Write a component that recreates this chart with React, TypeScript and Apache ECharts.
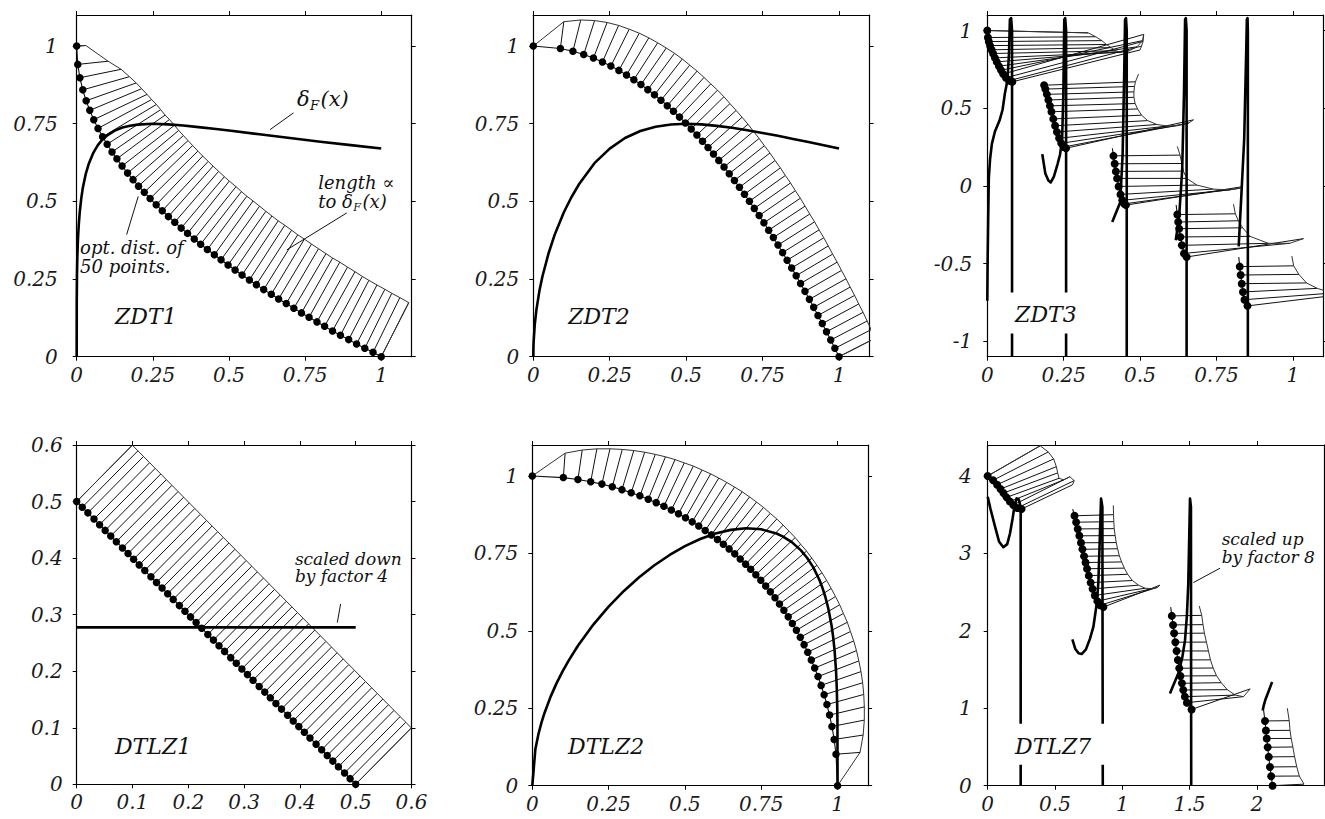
import React, { useEffect, useRef } from "react";
import * as echarts from "echarts";

const FONT = "DejaVu Serif";

// ---------- tick values ----------
const zdtTicks = [0, 0.25, 0.5, 0.75, 1];
const zdt3YTicks = [-1, -0.5, 0, 0.5, 1];
const dtlz1Ticks = [0, 0.1, 0.2, 0.3, 0.4, 0.5, 0.6];
const dtlz7XTicks = [0, 0.5, 1, 1.5, 2];
const dtlz7YTicks = [0, 1, 2, 3, 4];

// ---------- ZDT1 ----------
const zdt1X = [0, 0.0035, 0.0105, 0.02, 0.031, 0.043, 0.056, 0.07, 0.085, 0.1,
  0.116, 0.132, 0.149, 0.167, 0.185, 0.203, 0.222, 0.241, 0.261, 0.281,
  0.301, 0.322, 0.343, 0.364, 0.386, 0.407, 0.429, 0.452, 0.474, 0.497,
  0.52, 0.543, 0.567, 0.59, 0.614, 0.639, 0.663, 0.688, 0.713, 0.738,
  0.763, 0.789, 0.814, 0.84, 0.866, 0.893, 0.919, 0.946, 0.973, 1.0];
const zdt1Y = [1, 0.941, 0.898, 0.859, 0.824, 0.793, 0.763, 0.735, 0.708, 0.684,
  0.659, 0.637, 0.614, 0.591, 0.57, 0.549, 0.529, 0.509, 0.489, 0.47,
  0.451, 0.433, 0.414, 0.397, 0.379, 0.362, 0.345, 0.328, 0.312, 0.295,
  0.279, 0.263, 0.247, 0.232, 0.216, 0.201, 0.186, 0.171, 0.156, 0.141,
  0.127, 0.112, 0.098, 0.083, 0.069, 0.055, 0.041, 0.027, 0.014, 0];
const zdt1Hatch = [0.03, 0.1, 0.138, 0.159, 0.174, 0.184, 0.193, 0.199, 0.205, 0.208,
  0.211, 0.214, 0.216, 0.217, 0.218, 0.219, 0.219, 0.219, 0.219, 0.219,
  0.219, 0.218, 0.218, 0.217, 0.217, 0.216, 0.215, 0.215, 0.214, 0.213,
  0.212, 0.211, 0.211, 0.21, 0.209, 0.208, 0.207, 0.206, 0.205, 0.204,
  0.204, 0.203, 0.202, 0.201, 0.2, 0.199, 0.199, 0.198, 0.197, 0.196];
const zdt1DeltaX = [0, 0.0002, 0.001, 0.002, 0.0035, 0.005, 0.007, 0.01, 0.015, 0.02, 0.03, 0.04, 0.055, 0.07, 0.085, 0.1, 0.125, 0.15, 0.175, 0.2, 0.25, 0.3, 0.35, 0.4, 0.45, 0.5, 0.6, 0.7, 0.8, 0.9, 1.0];
const zdt1DeltaY = [0, 0.178, 0.266, 0.316, 0.3625, 0.395, 0.4277, 0.465, 0.5096, 0.543, 0.5895, 0.622, 0.657, 0.682, 0.6996, 0.712, 0.7278, 0.738, 0.7437, 0.747, 0.75, 0.748, 0.7443, 0.739, 0.7338, 0.728, 0.716, 0.704, 0.692, 0.681, 0.67];

// ---------- ZDT2 ----------
const zdt2X = [0, 0.0886, 0.1296, 0.1649, 0.1967, 0.2261, 0.2537, 0.2799, 0.3049, 0.3289,
  0.3521, 0.3745, 0.3963, 0.4175, 0.4382, 0.4584, 0.4782, 0.4975, 0.5165, 0.5351,
  0.5535, 0.5715, 0.5893, 0.6067, 0.6239, 0.6409, 0.6578, 0.6743, 0.6907, 0.7069,
  0.7229, 0.7387, 0.7543, 0.7699, 0.7852, 0.8004, 0.8154, 0.8303, 0.8451, 0.8598,
  0.8742, 0.8886, 0.903, 0.9171, 0.9312, 0.9452, 0.959, 0.9728, 0.9864, 1];
const zdt2Y = [1, 0.9921, 0.9832, 0.9728, 0.9613, 0.9489, 0.9356, 0.9217, 0.907, 0.8918,
  0.876, 0.8597, 0.843, 0.8257, 0.808, 0.7899, 0.7713, 0.7525, 0.7332, 0.7137,
  0.6936, 0.6734, 0.6527, 0.6319, 0.6107, 0.5892, 0.5673, 0.5453, 0.5229, 0.5003,
  0.4774, 0.4543, 0.431, 0.4073, 0.3835, 0.3594, 0.3351, 0.3106, 0.2858, 0.2607,
  0.2358, 0.2104, 0.1846, 0.1589, 0.1329, 0.1066, 0.0803, 0.0537, 0.027, 0];
const zdt2Hatch = [0, 0.087, 0.104, 0.115, 0.123, 0.129, 0.133, 0.137, 0.14, 0.142,
  0.144, 0.146, 0.147, 0.147, 0.148, 0.148, 0.148, 0.149, 0.149, 0.148,
  0.148, 0.148, 0.148, 0.147, 0.147, 0.146, 0.146, 0.145, 0.145, 0.144,
  0.144, 0.143, 0.143, 0.142, 0.141, 0.141, 0.14, 0.14, 0.139, 0.138,
  0.138, 0.137, 0.137, 0.136, 0.136, 0.135, 0.135, 0.134, 0.133, 0.133];
const zdt2DeltaX = [0, 0.0003, 0.001, 0.005, 0.01, 0.02, 0.03, 0.05, 0.07, 0.1, 0.125, 0.15, 0.2, 0.25, 0.3, 0.35, 0.4, 0.45, 0.5, 0.55, 0.6, 0.65, 0.7, 0.75, 0.8, 0.85, 0.9, 0.95, 1.0];
const zdt2DeltaY = [0, 0.026, 0.047, 0.106, 0.15, 0.212, 0.259, 0.333, 0.393, 0.465, 0.514, 0.556, 0.623, 0.67, 0.704, 0.7265, 0.74, 0.7474, 0.75, 0.7478, 0.743, 0.7369, 0.729, 0.7201, 0.711, 0.7007, 0.691, 0.6805, 0.67];

// ---------- ZDT3 (five front pieces) ----------
const zdt3X = [
  [0, 0.002, 0.005, 0.009, 0.014, 0.019, 0.025, 0.031, 0.038, 0.045, 0.052, 0.061, 0.071, 0.082],
  [0.186, 0.19, 0.195, 0.2, 0.205, 0.21, 0.216, 0.222, 0.228, 0.235, 0.242, 0.25, 0.2578],
  [0.413, 0.417, 0.421, 0.425, 0.43, 0.436, 0.442, 0.448, 0.4539],
  [0.622, 0.625, 0.628, 0.632, 0.637, 0.644, 0.6525],
  [0.8265, 0.8295, 0.833, 0.837, 0.842, 0.8518],
];
const zdt3Y = [
  [1, 0.955, 0.929, 0.903, 0.876, 0.852, 0.824, 0.798, 0.77, 0.744, 0.72, 0.696, 0.677, 0.67],
  [0.648, 0.623, 0.589, 0.553, 0.515, 0.477, 0.431, 0.387, 0.347, 0.306, 0.274, 0.25, 0.242],
  [0.193, 0.142, 0.093, 0.048, -0.004, -0.055, -0.093, -0.116, -0.124],
  [-0.185, -0.233, -0.276, -0.329, -0.383, -0.435, -0.458],
  [-0.52, -0.574, -0.63, -0.683, -0.733, -0.773],
];
const zdt3TipX = [
  [0.33, 0.355, 0.375, 0.39, 0.405, 0.42, 0.44, 0.465, 0.49, 0.508, 0.512, 0.51, 0.505, 0.5],
  [0.485, 0.482, 0.48, 0.48, 0.484, 0.492, 0.505, 0.525, 0.555, 0.59, 0.63, 0.66, 0.675],
  [0.631, 0.637, 0.642, 0.653, 0.686, 0.74, 0.795, 0.828, 0.833],
  [0.812, 0.822, 0.836, 0.86, 0.92, 0.99, 1.035],
  [1.003, 1.02, 1.045, 1.08, 1.13, 1.2],
];
const zdt3TipY = [
  [0.985, 0.96, 0.935, 0.91, 0.89, 0.87, 0.86, 0.87, 0.895, 0.935, 0.975, 0.93, 0.9, 0.875],
  [0.67, 0.64, 0.605, 0.57, 0.53, 0.495, 0.455, 0.42, 0.395, 0.385, 0.39, 0.405, 0.425],
  [0.198, 0.144, 0.095, 0.048, 0.005, -0.021, -0.026, -0.015, -0.006],
  [-0.18, -0.225, -0.27, -0.325, -0.37, -0.37, -0.34],
  [-0.515, -0.57, -0.625, -0.66, -0.69, -0.69],
];
const zdt3TailX = [0, 0.495, 0.622, 0.806, 0.997];
const zdt3TailY = [1, 0.72, 0.254, -0.118, -0.452];
const zdt3StartX = [0, 0.1822, 0.4093, 0.6183, 0.8233];
const zdt3StartY = [1, 0.669, 0.242, -0.123, -0.458];
const zdt3DeltaX = [
  [0, 0.001, 0.003, 0.005, 0.009, 0.015, 0.025, 0.04, 0.05, 0.058, 0.066, 0.071, 0.074, 0.078, 0.081, 0.081],
  [0.18, 0.19, 0.2, 0.2077, 0.218, 0.23, 0.238, 0.245, 0.249, 0.252, 0.255, 0.258, 0.258],
  [0.409, 0.42, 0.435, 0.443, 0.448, 0.451, 0.454, 0.4565, 0.4565],
  [0.617, 0.628, 0.638, 0.644, 0.6475, 0.65, 0.6525, 0.6525],
  [0.823, 0.832, 0.841, 0.848, 0.8497, 0.852, 0.853, 0.853],
];
const zdt3DeltaY = [
  [-0.74, -0.5, -0.2, 0.05, 0.17, 0.27, 0.35, 0.42, 0.49, 0.6, 0.68, 0.85, 1.07, 1.08, 1.0, -1.1],
  [0.204, 0.08, 0.035, 0.022, 0.06, 0.14, 0.2, 0.3, 0.6, 1.07, 1.08, 1.0, -1.1],
  [-0.232, -0.18, -0.107, 0.2, 0.7, 1.07, 1.08, 1.0, -1.1],
  [-0.35, -0.2, 0.1, 0.6, 1.07, 1.08, 1.0, -1.1],
  [-0.39, -0.05, 0.3, 0.9, 1.07, 1.08, 1.0, -1.1],
];

// ---------- DTLZ1 ----------
const dtlz1X = [0, 0.01, 0.02, 0.031, 0.041, 0.051, 0.061, 0.071, 0.082, 0.092,
  0.102, 0.112, 0.122, 0.133, 0.143, 0.153, 0.163, 0.173, 0.184, 0.194,
  0.204, 0.214, 0.224, 0.235, 0.245, 0.255, 0.265, 0.276, 0.286, 0.296,
  0.306, 0.316, 0.327, 0.337, 0.347, 0.357, 0.367, 0.378, 0.388, 0.398,
  0.408, 0.418, 0.429, 0.439, 0.449, 0.459, 0.469, 0.48, 0.49, 0.5];
const dtlz1Y = [0.5, 0.49, 0.48, 0.469, 0.459, 0.449, 0.439, 0.429, 0.418, 0.408,
  0.398, 0.388, 0.378, 0.367, 0.357, 0.347, 0.337, 0.327, 0.316, 0.306,
  0.296, 0.286, 0.276, 0.265, 0.255, 0.245, 0.235, 0.224, 0.214, 0.204,
  0.194, 0.184, 0.173, 0.163, 0.153, 0.143, 0.133, 0.122, 0.112, 0.102,
  0.092, 0.082, 0.071, 0.061, 0.051, 0.041, 0.031, 0.02, 0.01, 0];
const dtlz1Hatch = [0.141, 0.141, 0.141, 0.141, 0.141, 0.141, 0.141, 0.141, 0.141, 0.141,
  0.141, 0.141, 0.141, 0.141, 0.141, 0.141, 0.141, 0.141, 0.141, 0.141,
  0.141, 0.141, 0.141, 0.141, 0.141, 0.141, 0.141, 0.141, 0.141, 0.141,
  0.141, 0.141, 0.141, 0.141, 0.141, 0.141, 0.141, 0.141, 0.141, 0.141,
  0.141, 0.141, 0.141, 0.141, 0.141, 0.141, 0.141, 0.141, 0.141, 0.141];
const dtlz1DeltaX = [0, 0.5];
const dtlz1DeltaY = [0.2775, 0.2775];

// ---------- DTLZ2 ----------
const dtlz2X = [0, 0.1016, 0.1494, 0.1913, 0.228, 0.262, 0.2937, 0.3239, 0.3524, 0.3799,
  0.4059, 0.4311, 0.4554, 0.4789, 0.5018, 0.5238, 0.5452, 0.5664, 0.5868, 0.6066,
  0.6259, 0.6448, 0.6631, 0.6811, 0.6988, 0.7153, 0.7322, 0.7485, 0.7645, 0.7798,
  0.795, 0.8097, 0.8241, 0.8383, 0.8518, 0.865, 0.8779, 0.8903, 0.9023, 0.9139,
  0.925, 0.9359, 0.9461, 0.9559, 0.9651, 0.9737, 0.9815, 0.9888, 0.9948, 1];
const dtlz2Y = [1, 0.9948, 0.9888, 0.9815, 0.9737, 0.9651, 0.9559, 0.9461, 0.9359, 0.925,
  0.9139, 0.9023, 0.8903, 0.8779, 0.865, 0.8518, 0.8383, 0.8241, 0.8097, 0.795,
  0.7798, 0.7645, 0.7485, 0.7322, 0.7153, 0.6988, 0.6811, 0.6631, 0.6448, 0.6259,
  0.6066, 0.5868, 0.5664, 0.5452, 0.5238, 0.5018, 0.4789, 0.4554, 0.4311, 0.4059,
  0.3799, 0.3524, 0.3239, 0.2937, 0.262, 0.228, 0.1913, 0.1494, 0.1016, 0];
const dtlz2Hatch = [0, 0.079, 0.096, 0.108, 0.117, 0.125, 0.132, 0.138, 0.143, 0.148,
  0.152, 0.155, 0.159, 0.161, 0.164, 0.166, 0.168, 0.17, 0.172, 0.173,
  0.174, 0.175, 0.175, 0.176, 0.176, 0.176, 0.176, 0.175, 0.175, 0.174,
  0.173, 0.172, 0.17, 0.168, 0.166, 0.164, 0.161, 0.159, 0.155, 0.152,
  0.148, 0.143, 0.138, 0.132, 0.125, 0.117, 0.108, 0.096, 0.079, 0];
const dtlz2DeltaX = [0, 0.01, 0.02, 0.03, 0.04, 0.06, 0.08, 0.1, 0.12, 0.15, 0.2, 0.25, 0.3, 0.35, 0.4, 0.45, 0.5, 0.55, 0.6, 0.65, 0.7, 0.75, 0.8, 0.82, 0.85, 0.88, 0.9, 0.92, 0.94, 0.95, 0.96, 0.97, 0.98, 0.985, 0.99, 0.995, 0.9975, 0.999, 0.9995, 1];
const dtlz2DeltaY = [0, 0.1175, 0.1662, 0.2035, 0.2349, 0.2876, 0.3319, 0.3707, 0.4056, 0.4527, 0.5203, 0.5782, 0.6288, 0.6729, 0.7116, 0.745, 0.7733, 0.7965, 0.8142, 0.826, 0.831, 0.8278, 0.8142, 0.8051, 0.7864, 0.7598, 0.7361, 0.7057, 0.6656, 0.64, 0.6093, 0.5707, 0.519, 0.4846, 0.4392, 0.3705, 0.312, 0.2483, 0.2089, 0];

// ---------- DTLZ7 (four front pieces) ----------
const dtlz7X = [
  [0, 0.04, 0.07, 0.095, 0.117, 0.14, 0.165, 0.19, 0.22, 0.2514],
  [0.645, 0.657, 0.669, 0.681, 0.693, 0.704, 0.716, 0.727, 0.738, 0.751, 0.765, 0.779, 0.796, 0.815, 0.835, 0.8594],
  [1.368, 1.377, 1.385, 1.394, 1.403, 1.413, 1.423, 1.432, 1.443, 1.453, 1.465, 1.48, 1.5148],
  [2.06, 2.067, 2.073, 2.08, 2.088, 2.097, 2.106, 2.1164],
];
const dtlz7Y = [
  [4, 3.945, 3.887, 3.831, 3.779, 3.724, 3.67, 3.625, 3.587, 3.573],
  [3.486, 3.403, 3.316, 3.227, 3.137, 3.053, 2.963, 2.882, 2.802, 2.713, 2.623, 2.542, 2.457, 2.382, 2.33, 2.307],
  [2.193, 2.076, 1.968, 1.853, 1.74, 1.624, 1.517, 1.417, 1.323, 1.236, 1.15, 1.072, 0.985],
  [0.836, 0.713, 0.61, 0.496, 0.372, 0.242, 0.123, 0],
];
const dtlz7TipX = [
  [0.39, 0.45, 0.49, 0.51, 0.52, 0.53, 0.565, 0.61, 0.643, 0.629],
  [0.935, 0.937, 0.94, 0.947, 0.955, 0.965, 0.978, 0.995, 1.015, 1.04, 1.075, 1.12, 1.17, 1.22, 1.26, 1.28],
  [1.59, 1.6, 1.61, 1.625, 1.64, 1.655, 1.675, 1.7, 1.735, 1.78, 1.84, 1.9, 1.95],
  [2.24, 2.246, 2.255, 2.267, 2.28, 2.296, 2.315, 2.35],
];
const dtlz7TipY = [
  [4.39, 4.31, 4.22, 4.12, 4.04, 3.97, 3.95, 3.99, 3.94, 3.885],
  [3.5, 3.41, 3.32, 3.23, 3.14, 3.06, 2.97, 2.89, 2.81, 2.73, 2.65, 2.59, 2.55, 2.545, 2.56, 2.59],
  [2.2, 2.08, 1.97, 1.855, 1.74, 1.625, 1.52, 1.42, 1.33, 1.24, 1.17, 1.15, 1.25],
  [0.84, 0.715, 0.61, 0.5, 0.375, 0.245, 0.125, 0.02],
];
const dtlz7TailX = [0, 0.933, 1.572, 2.226];
const dtlz7TailY = [4, 3.62, 2.32, 1.0];
const dtlz7StartX = [0, 0.6316, 1.3596, 2.048];
const dtlz7StartY = [4, 3.573, 2.307, 1.0];
const dtlz7DeltaX = [
  [0, 0.02, 0.054, 0.085, 0.116, 0.145, 0.166, 0.185, 0.198, 0.215, 0.23, 0.245, 0.245],
  [0.629, 0.65, 0.675, 0.698, 0.73, 0.76, 0.785, 0.81, 0.822, 0.833, 0.842, 0.852, 0.855],
  [1.354, 1.38, 1.416, 1.445, 1.466, 1.48, 1.49, 1.497, 1.503, 1.51, 1.512],
  [2.043, 2.05, 2.065, 2.085, 2.1, 2.113],
];
const dtlz7DeltaY = [
  [3.73, 3.58, 3.35, 3.15, 3.08, 3.12, 3.26, 3.45, 3.6, 3.71, 3.7, 3.6, 0],
  [1.89, 1.77, 1.71, 1.7, 1.76, 1.9, 2.05, 2.35, 2.62, 3.2, 3.71, 3.6, 0],
  [1.19, 1.3, 1.45, 1.65, 1.88, 2.2, 2.6, 3.2, 3.71, 3.6, 0],
  [0.97, 1.03, 1.12, 1.21, 1.28, 1.34],
];

// ---------- helpers ----------
const GAP: any = ["-", "-"];
const pts = (xs: number[], ys: number[]) => xs.map((x, i) => [x, ys[i]]);
function joined(list: any[][]) {
  const out: any[] = [];
  list.forEach((s, k) => {
    if (k) out.push(GAP);
    s.forEach((p: any) => out.push(p));
  });
  return out;
}
function normalTips(xs: number[], ys: number[], lens: number[]) {
  const n = xs.length;
  const tx: number[] = [];
  const ty: number[] = [];
  for (let i = 0; i < n; i++) {
    const a = Math.max(0, i - 1);
    const b = Math.min(n - 1, i + 1);
    const dx = xs[b] - xs[a];
    const dy = ys[b] - ys[a];
    const d = Math.hypot(dx, dy) || 1;
    tx.push(xs[i] + (-dy / d) * lens[i]);
    ty.push(ys[i] + (dx / d) * lens[i]);
  }
  return [tx, ty];
}
function hatchPts(xs: number[], ys: number[], tx: number[], ty: number[]) {
  const out: any[] = [];
  xs.forEach((x, i) => {
    out.push([x, ys[i]], [tx[i], ty[i]], GAP);
  });
  return out;
}
function smoothPanel(xs: number[], ys: number[], lens: number[], dx: number[], dy: number[]) {
  const [tx, ty] = normalTips(xs, ys, lens);
  const n = xs.length;
  return {
    dots: [pts(xs, ys)],
    fronts: [pts(xs, ys)],
    hatch: hatchPts(xs, ys, tx, ty),
    env: [pts([xs[0], ...tx, xs[n - 1]], [ys[0], ...ty, ys[n - 1]])],
    delta: [pts(dx, dy)],
  };
}
function piecePanel(X: number[][], Y: number[][], TX: number[][], TY: number[][], tailX: number[], tailY: number[], sX: number[], sY: number[], DX: number[][], DY: number[][]) {
  let hatch: any[] = [];
  X.forEach((xs, k) => { hatch = hatch.concat(hatchPts(xs, Y[k], TX[k], TY[k])); });
  return {
    dots: X.map((xs, k) => pts(xs, Y[k])),
    fronts: X.map((xs, k) => pts([sX[k], ...xs], [sY[k], ...Y[k]])),
    hatch,
    env: X.map((_, k) => pts([tailX[k], ...TX[k]], [tailY[k], ...TY[k]])),
    delta: DX.map((xs, k) => pts(xs, DY[k])),
  };
}

const panels = [
  { box: [76.7, 15, 335, 341.7], xr: [0, 1.1], yr: [0, 1.1], xt: zdtTicks, yt: zdtTicks, ylm: 19, dot: 7.5,
    ...smoothPanel(zdt1X, zdt1Y, zdt1Hatch, zdt1DeltaX, zdt1DeltaY) },
  { box: [533.3, 15, 336.3, 341.7], xr: [0, 1.1], yr: [0, 1.1], xt: zdtTicks, yt: zdtTicks, ylm: 14, dot: 7.5,
    ...smoothPanel(zdt2X, zdt2Y, zdt2Hatch, zdt2DeltaX, zdt2DeltaY) },
  { box: [987.3, 15, 336, 341.7], xr: [0, 1.1], yr: [-1.1, 1.1], xt: zdtTicks, yt: zdt3YTicks, ylm: 15, dot: 8,
    ...piecePanel(zdt3X, zdt3Y, zdt3TipX, zdt3TipY, zdt3TailX, zdt3TailY, zdt3StartX, zdt3StartY, zdt3DeltaX, zdt3DeltaY) },
  { box: [76.7, 445, 334.8, 339.3], xr: [0, 0.6], yr: [0, 0.6], xt: dtlz1Ticks, yt: dtlz1Ticks, ylm: 14, dot: 7.5,
    ...smoothPanel(dtlz1X, dtlz1Y, dtlz1Hatch, dtlz1DeltaX, dtlz1DeltaY) },
  { box: [532.3, 445, 335.8, 340.7], xr: [0, 1.1], yr: [0, 1.1], xt: zdtTicks, yt: zdtTicks, ylm: 14, dot: 7.5,
    ...smoothPanel(dtlz2X, dtlz2Y, dtlz2Hatch, dtlz2DeltaX, dtlz2DeltaY) },
  { box: [987.7, 445, 336.5, 340.7], xr: [0, 2.5], yr: [0, 4.4], xt: dtlz7XTicks, yt: dtlz7YTicks, ylm: 16, dot: 8,
    ...piecePanel(dtlz7X, dtlz7Y, dtlz7TipX, dtlz7TipY, dtlz7TailX, dtlz7TailY, dtlz7StartX, dtlz7StartY, dtlz7DeltaX, dtlz7DeltaY) },
];

// ---------- annotations (layout, in data coordinates of each panel) ----------
const panelLabels = [
  { p: 0, x: 0.126, y: 0.129, text: "ZDT1" },
  { p: 1, x: 0.114, y: 0.129, text: "ZDT2" },
  { p: 2, x: 0.091, y: -0.828, text: "ZDT3", box: [-8, -22, 84, 41] },
  { p: 3, x: 0.0686, y: 0.0665, text: "DTLZ1" },
  { p: 4, x: 0.117, y: 0.126, text: "DTLZ2" },
  { p: 5, x: 0.203, y: 0.504, text: "DTLZ7", box: [-7, -23, 97, 41] },
];
const notes = [
  { p: 0, x: 0.011, y: 0.32, text: "opt. dist. of\n50 points.", size: 18, lh: 19 },
  { p: 0, x: 0.793, y: 0.56, text: "length \u221D", size: 18, lh: 20 },
  { p: 0, x: 0.793, y: 0.499, text: "to \u03B4", sub: "F", after: "(x)", size: 18, lh: 20 },
  { p: 0, x: 0.723, y: 0.828, text: "\u03B4", sub: "F", after: "(x)", size: 21, lh: 24 },
  { p: 3, x: 0.391, y: 0.383, text: "scaled down\nby factor 4", size: 17, lh: 17.5 },
  { p: 5, x: 1.738, y: 3.067, text: "scaled up\nby factor 8", size: 17, lh: 17.5 },
];
const pointers = [
  { p: 0, a: [0.712, 0.785], b: [0.635, 0.731] },
  { p: 0, a: [0.887, 0.463], b: [0.69, 0.344] },
  { p: 0, a: [0.164, 0.393], b: [0.202, 0.516] },
  { p: 3, a: [0.467, 0.286], b: [0.473, 0.319] },
  { p: 5, a: [1.726, 2.809], b: [1.528, 2.623] },
];

function axis(pos: string, range: number[], ticks: number[], labels: boolean, margin: number, gi: number) {
  return {
    type: "value", gridIndex: gi, position: pos, min: range[0], max: range[1],
    axisLine: { show: true, onZero: false, lineStyle: { color: "#000", width: 1.2 } },
    axisTick: { show: true, inside: false, length: 4, customValues: ticks, lineStyle: { color: "#000", width: 1 } },
    axisLabel: { show: labels, customValues: ticks, margin, fontFamily: FONT, fontStyle: "italic", fontSize: 20, color: "#1a1a1a" },
    splitLine: { show: false },
    axisPointer: { show: false },
  };
}

function buildOption() {
  const grid: any[] = [];
  const xAxis: any[] = [];
  const yAxis: any[] = [];
  const series: any[] = [];
  panels.forEach((p: any, i) => {
    grid.push({ left: p.box[0], top: p.box[1], width: p.box[2], height: p.box[3], containLabel: false });
    xAxis.push(axis("bottom", p.xr, p.xt, true, 8, i));
    xAxis.push(axis("top", p.xr, p.xt, false, 8, i));
    yAxis.push(axis("left", p.yr, p.yt, true, p.ylm, i));
    yAxis.push(axis("right", p.yr, p.yt, false, 8, i));
    const ax = { xAxisIndex: 2 * i, yAxisIndex: 2 * i };
    const line = (data: any[], color: string, width: number, z: number) => ({
      type: "line", ...ax, data, symbol: "none", showSymbol: false, connectNulls: false, clip: true, silent: true,
      lineStyle: { color, width, join: "round" }, z,
    });
    series.push(line(p.hatch, "#111", 1, 2));
    series.push(line(joined(p.env), "#333", 1, 2));
    series.push(line(joined(p.fronts), "#111", 1.1, 3));
    series.push(line(joined(p.delta), "#000", 2.6, 4));
    let dots: any[] = [];
    p.dots.forEach((s: any[]) => { dots = dots.concat(s); });
    series.push({ type: "scatter", ...ax, data: dots, symbol: "circle", symbolSize: p.dot, itemStyle: { color: "#000", opacity: 1 }, silent: true, z: 5 });
  });
  return { animation: false, backgroundColor: "#fff", grid, xAxis, yAxis, series };
}

function buildGraphic(chart: any) {
  const ctx = document.createElement("canvas").getContext("2d") as CanvasRenderingContext2D;
  const measure = (t: string, size: number) => { ctx.font = `italic ${size}px "${FONT}"`; return ctx.measureText(t).width; };
  const toPx = (p: number, x: number, y: number) => chart.convertToPixel({ xAxisIndex: 2 * p, yAxisIndex: 2 * p }, [x, y]);
  const text = (t: string, x: number, y: number, size: number, lh?: number) => ({
    type: "text", x, y, z: 101, silent: true,
    style: { text: t, font: `italic ${size}px "${FONT}"`, lineHeight: lh || size * 1.15, fill: "#111", textAlign: "left", textVerticalAlign: "middle", align: "left", verticalAlign: "middle" },
  });
  const els: any[] = [];
  panelLabels.forEach((l: any) => {
    const [px, py] = toPx(l.p, l.x, l.y);
    if (l.box) {
      els.push({ type: "rect", z: 100, silent: true, shape: { x: px + l.box[0], y: py + l.box[1], width: l.box[2], height: l.box[3] }, style: { fill: "#fff" } });
    }
    els.push(text(l.text, px, py, 22));
  });
  notes.forEach((n: any) => {
    const [px, py] = toPx(n.p, n.x, n.y);
    els.push(text(n.text, px, py, n.size, n.lh));
    if (n.sub) {
      const w = measure(n.text, n.size);
      const ss = Math.round(n.size * 0.6);
      els.push(text(n.sub, px + w + 0.5, py + n.size * 0.3, ss));
      const w2 = measure(n.sub, ss);
      els.push(text(n.after, px + w + w2 + 2, py, n.size, n.lh));
    }
  });
  pointers.forEach((q) => {
    const [x1, y1] = toPx(q.p, q.a[0], q.a[1]);
    const [x2, y2] = toPx(q.p, q.b[0], q.b[1]);
    els.push({ type: "line", z: 100, silent: true, shape: { x1, y1, x2, y2 }, style: { stroke: "#111", lineWidth: 1 } });
  });
  return els;
}

export default function App() {
  const ref = useRef<HTMLDivElement>(null);
  useEffect(() => {
    if (!ref.current) return;
    const chart = echarts.init(ref.current, null, { renderer: "svg" });
    chart.setOption(buildOption() as any);
    chart.setOption({ graphic: buildGraphic(chart) } as any);
    return () => chart.dispose();
  }, []);
  return <div ref={ref} style={{ position: "absolute", left: 0, top: 0, width: 1325, height: 819, background: "#fff" }} />;
}
